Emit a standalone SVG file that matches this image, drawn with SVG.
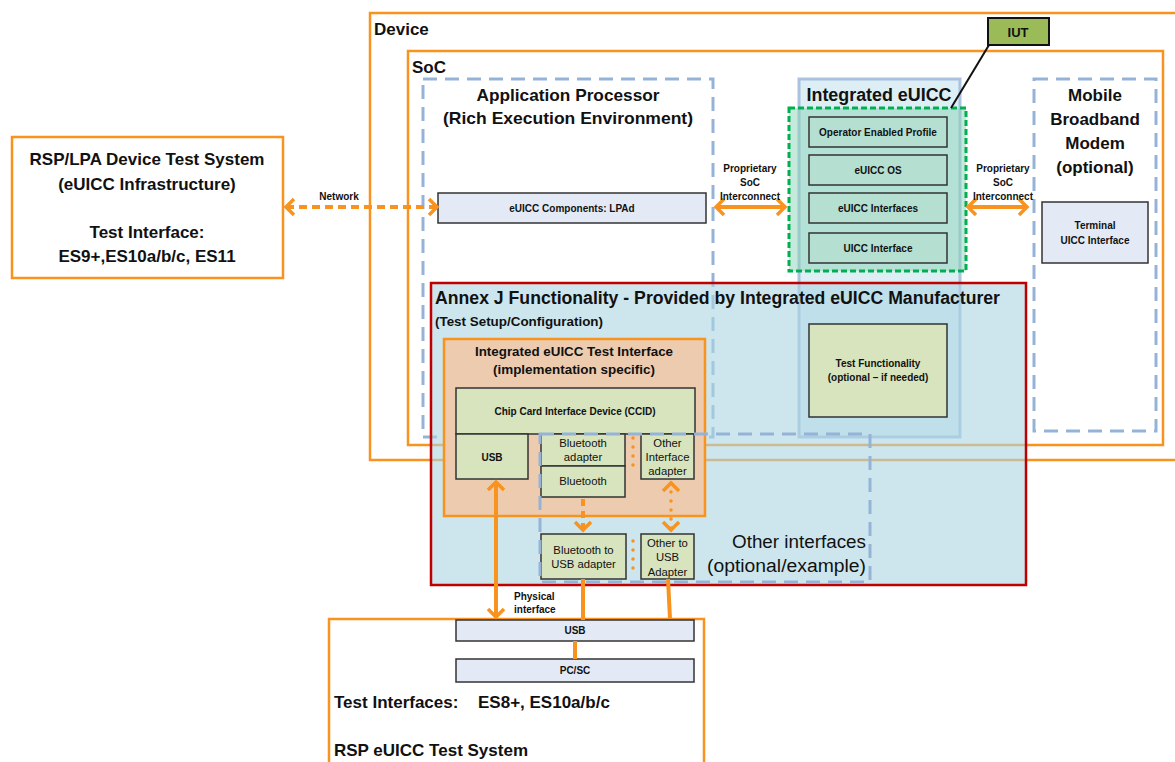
<svg xmlns="http://www.w3.org/2000/svg" width="1175" height="762" viewBox="0 0 1175 762">
<style>
.o{fill:none;stroke:#F7931E;stroke-width:2.5}
.bd{fill:none;stroke:#95B3D7;stroke-width:3;stroke-dasharray:14 8}
.t{font-family:"Liberation Sans",Arial,sans-serif;fill:#111}
.b{font-weight:bold}
.c{text-anchor:middle}
.e{text-anchor:end}
.s10{font-size:10px}
.s11{font-size:11.3px}
.s13{font-size:13.3px}
.s17{font-size:17px}
.s18{font-size:18px}
.gb{fill:#D7E4BD;stroke:#333;stroke-width:1.5}
.lb{fill:#E4EAF5;stroke:#333;stroke-width:1.5}
.tb{fill:#B4DFD1;stroke:#333;stroke-width:1.5}
.cn{fill:none;stroke:#F7931E;stroke-width:4}
.dash{stroke-dasharray:8 5}
.dot{stroke-width:3.5;stroke-dasharray:0 9;stroke-linecap:round}
</style>
<defs>
<marker id="ah" viewBox="-12 -12 24 24" refX="0" refY="0" markerWidth="24" markerHeight="24" markerUnits="userSpaceOnUse" orient="auto-start-reverse" overflow="visible">
<path d="M-8,-8 L0,0 L-8,8" fill="none" stroke="#F7931E" stroke-width="3.5" stroke-dasharray="none"/>
</marker>
</defs>
<rect width="1175" height="762" fill="#FFFFFF"/>

<g id="device">
<rect class="o" x="370" y="13" width="830" height="447"/>
<text class="t b s17" x="374" y="35">Device</text>
</g>
<g id="soc">
<rect class="o" x="408" y="51" width="755" height="394"/>
<text class="t b s17" x="412" y="73">SoC</text>
</g>
<g id="app-processor">
<rect class="bd" x="423" y="79" width="290" height="358"/>
<text class="t b s17 c" x="568" y="101" textLength="183" lengthAdjust="spacingAndGlyphs">Application Processor</text>
<text class="t b s17 c" x="568" y="124" textLength="250" lengthAdjust="spacingAndGlyphs">(Rich Execution Environment)</text>
</g>
<g id="lpad">
<rect class="lb" x="438" y="193" width="268" height="30"/>
<text class="t b s10 c" x="572" y="212">eUICC Components: LPAd</text>
</g>
<g id="modem">
<rect class="bd" x="1034" y="79" width="122" height="352"/>
<text class="t b s17 c" x="1095" y="101">Mobile</text>
<text class="t b s17 c" x="1095" y="125">Broadband</text>
<text class="t b s17 c" x="1095" y="149">Modem</text>
<text class="t b s17 c" x="1095" y="173">(optional)</text>
</g>
<g id="terminal-uicc">
<rect class="lb" x="1042" y="202" width="106" height="61"/>
<text class="t b s10 c" x="1095" y="229">Terminal</text>
<text class="t b s10 c" x="1095" y="244">UICC Interface</text>
</g>
<g id="rsp-lpa">
<rect class="o" x="12" y="137" width="271" height="141"/>
<text class="t b s17 c" x="147" y="165">RSP/LPA Device Test System</text>
<text class="t b s17 c" x="147" y="190">(eUICC Infrastructure)</text>
<text class="t b s17 c" x="147" y="238">Test Interface:</text>
<text class="t b s17 c" x="147" y="262">ES9+,ES10a/b/c, ES11</text>
</g>
<g id="integrated-euicc">
<rect x="799" y="79" width="161" height="358" fill="#BBDDE9" fill-opacity="0.5" stroke="#9DB9DD" stroke-width="3" stroke-opacity="0.85"/>
<text class="t b s18 c" x="879" y="101" textLength="145" lengthAdjust="spacingAndGlyphs">Integrated eUICC</text>
</g>
<g id="annex-j">
<rect x="431" y="283" width="595" height="302" fill="#ACD5E3" fill-opacity="0.6" stroke="#C00000" stroke-width="2.5"/>
<text class="t b s18" x="435" y="304" textLength="565" lengthAdjust="spacingAndGlyphs">Annex J Functionality - Provided by Integrated eUICC Manufacturer</text>
<text class="t b s13" x="435" y="326" textLength="168" lengthAdjust="spacingAndGlyphs">(Test Setup/Configuration)</text>
</g>
<g id="iut-scope">
<rect x="789" y="108" width="177" height="163" fill="#8BD3B5" fill-opacity="0.5" stroke="#00B050" stroke-width="3" stroke-dasharray="6 3"/>
</g>
<g id="operator-profile">
<rect class="tb" x="809" y="117" width="138" height="30"/>
<text class="t b s10 c" x="878" y="136">Operator Enabled Profile</text>
</g>
<g id="euicc-os">
<rect class="tb" x="809" y="155" width="138" height="30"/>
<text class="t b s10 c" x="878" y="174">eUICC OS</text>
</g>
<g id="euicc-interfaces">
<rect class="tb" x="809" y="193" width="138" height="30"/>
<text class="t b s10 c" x="878" y="212">eUICC Interfaces</text>
</g>
<g id="uicc-interface">
<rect class="tb" x="809" y="233" width="138" height="30"/>
<text class="t b s10 c" x="878" y="252">UICC Interface</text>
</g>
<g id="iut">
<rect x="988" y="18" width="61" height="27" fill="#9BBB59" stroke="#111" stroke-width="2"/>
<text class="t b c" style="font-size:13px" x="1018" y="37">IUT</text>
</g>
<g id="test-functionality">
<rect class="gb" x="809" y="324" width="138" height="93"/>
<text class="t b s10 c" x="878" y="367">Test Functionality</text>
<text class="t b s10 c" x="878" y="381">(optional – if needed)</text>
</g>
<g id="test-interface">
<rect x="444" y="339" width="261" height="177" fill="#EDCBAE" stroke="#F7931E" stroke-width="2.5"/>
<text class="t b s13 c" x="574" y="356" textLength="198" lengthAdjust="spacingAndGlyphs">Integrated eUICC Test Interface</text>
<text class="t b s13 c" x="574" y="374" textLength="162" lengthAdjust="spacingAndGlyphs">(implementation specific)</text>
</g>
<g id="ccid">
<rect class="gb" x="456" y="388" width="239" height="46"/>
<text class="t b s10 c" x="575" y="415">Chip Card Interface Device (CCID)</text>
</g>
<g id="usb-if">
<rect class="gb" x="456" y="434" width="72" height="45"/>
<text class="t b s10 c" x="492" y="461">USB</text>
</g>
<g id="bt-adapter">
<rect class="gb" x="541" y="434" width="84" height="32"/>
<text class="t s11 c" x="583" y="447">Bluetooth</text>
<text class="t s11 c" x="583" y="461">adapter</text>
</g>
<g id="bluetooth">
<rect class="gb" x="541" y="466" width="84" height="31"/>
<text class="t s11 c" x="583" y="485">Bluetooth</text>
</g>
<g id="other-if-adapter">
<rect class="gb" x="641" y="434" width="53" height="45"/>
<text class="t s11 c" x="667.5" y="447">Other</text>
<text class="t s11 c" x="667.5" y="461">Interface</text>
<text class="t s11 c" x="667.5" y="475">adapter</text>
</g>
<g id="bt-usb-adapter">
<rect class="gb" x="541" y="534" width="85" height="45"/>
<text class="t s11 c" x="583.5" y="554">Bluetooth to</text>
<text class="t s11 c" x="583.5" y="568">USB adapter</text>
</g>
<g id="other-usb-adapter">
<rect class="gb" x="641" y="534" width="53" height="45"/>
<text class="t s11 c" x="667.5" y="547">Other to</text>
<text class="t s11 c" x="667.5" y="561">USB</text>
<text class="t s11 c" x="667.5" y="576">Adapter</text>
</g>
<g id="other-interfaces">
<rect class="bd" x="540" y="434" width="330" height="148"/>
<text class="t s18 e" x="866" y="548" textLength="134" lengthAdjust="spacingAndGlyphs">Other interfaces</text>
<text class="t s18 e" x="866" y="572" textLength="159" lengthAdjust="spacingAndGlyphs">(optional/example)</text>
</g>
<g id="rsp-euicc-test-system">
<rect class="o" x="329" y="619" width="375" height="170"/>
<text class="t b s17" x="334" y="708">Test Interfaces:</text>
<text class="t b s17" x="478" y="708">ES8+, ES10a/b/c</text>
<text class="t b s17" x="334" y="756">RSP eUICC Test System</text>
</g>
<g id="usb-bar">
<rect class="lb" x="456" y="620" width="238" height="21"/>
<text class="t b s10 c" x="575" y="634">USB</text>
</g>
<g id="pcsc">
<rect class="lb" x="456" y="659" width="238" height="23"/>
<text class="t b s10 c" x="575" y="674">PC/SC</text>
</g>

<g id="connectors">
<line class="cn dash" x1="286" y1="207" x2="437" y2="207" stroke-width="3.5" marker-start="url(#ah)" marker-end="url(#ah)"/>
<text class="t b s10 c" x="339" y="200">Network</text>
<line class="cn" x1="716" y1="207" x2="785" y2="207" marker-start="url(#ah)" marker-end="url(#ah)"/>
<text class="t b s10 c" x="750" y="172">Proprietary</text>
<text class="t b s10 c" x="750" y="186">SoC</text>
<text class="t b s10 c" x="750" y="200">Interconnect</text>
<line class="cn" x1="968" y1="207" x2="1027" y2="207" marker-start="url(#ah)" marker-end="url(#ah)"/>
<text class="t b s10 c" x="1003" y="172">Proprietary</text>
<text class="t b s10 c" x="1003" y="186">SoC</text>
<text class="t b s10 c" x="1003" y="200">Interconnect</text>
<line x1="989" y1="45" x2="951" y2="108" stroke="#111" stroke-width="2"/>
<line class="cn" x1="496" y1="482" x2="496" y2="617" marker-start="url(#ah)" marker-end="url(#ah)"/>
<text class="t b s10" x="514" y="600">Physical</text>
<text class="t b s10" x="514" y="613">interface</text>
<line class="cn" x1="583" y1="499" x2="583" y2="530" stroke-dasharray="7 5" marker-end="url(#ah)"/>
<line class="cn dot" x1="633" y1="438" x2="633" y2="474"/>
<line class="cn dot" x1="633" y1="541" x2="633" y2="574"/>
<line class="cn dot" x1="671" y1="483" x2="671" y2="530" marker-start="url(#ah)" marker-end="url(#ah)"/>
<line class="cn" x1="583" y1="579" x2="583" y2="620" stroke-width="3.5"/>
<line class="cn" x1="668" y1="579" x2="670" y2="619" stroke-width="3"/>
<line class="cn" x1="575" y1="641" x2="575" y2="659"/>
</g>
</svg>
